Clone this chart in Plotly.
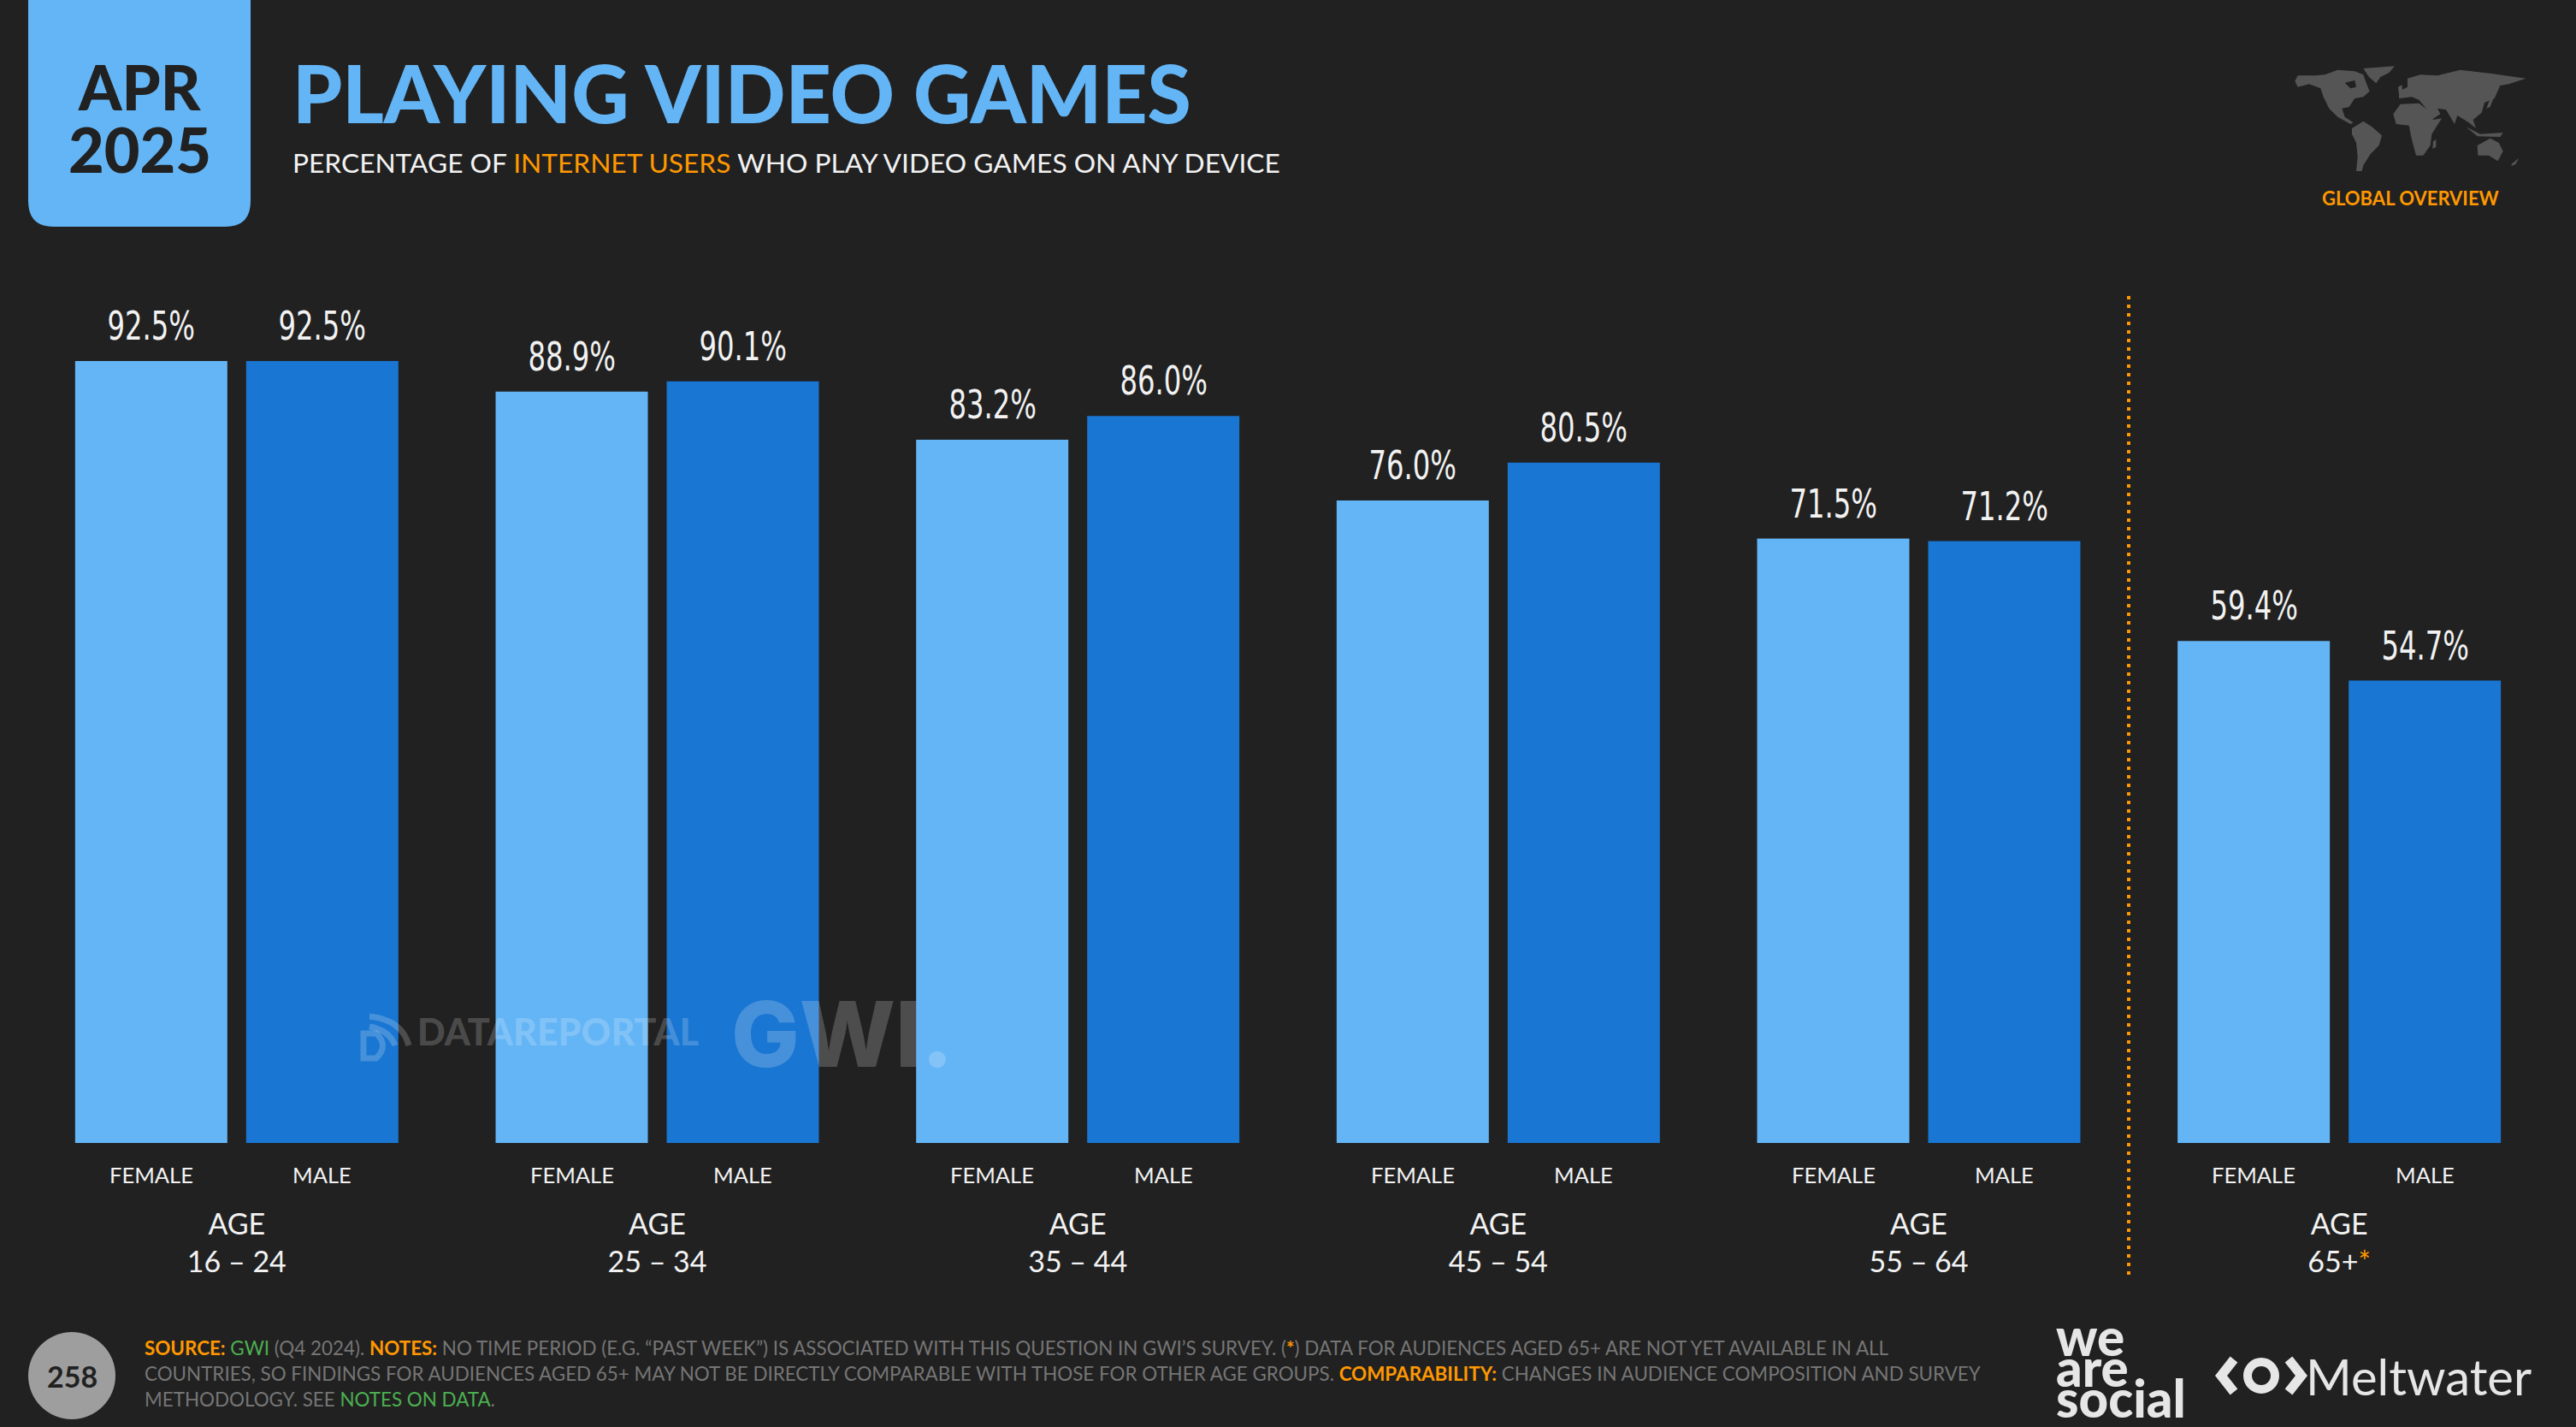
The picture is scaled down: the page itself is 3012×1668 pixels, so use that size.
import plotly.graph_objects as go

W, H = 3012, 1668
BG = "#212121"
LIGHT = "#64b5f6"
DARK = "#1976d2"
ORANGE = "#ff9800"
GREEN = "#4caf50"
GREY = "#757575"
WHITE = "#f2f2f2"
LOGO = "#e6e6e6"

age_groups = ["16 – 24", "25 – 34", "35 – 44", "45 – 54", "55 – 64", "65+"]
tick_labels = ["AGE<br>16 – 24", "AGE<br>25 – 34", "AGE<br>35 – 44", "AGE<br>45 – 54", "AGE<br>55 – 64",
               f"AGE<br>65+<span style='color:{ORANGE}'>*</span>"]
female = [92.5, 88.9, 83.2, 76.0, 71.5, 59.4]
male = [92.5, 90.1, 86.0, 80.5, 71.2, 54.7]
series_names = ["FEMALE", "MALE"]

TEXT = "Lato"
NUM = "DejaVu Sans Condensed, Roboto Condensed, Open Sans Condensed, Lato"


def px(x):
    return x / W


def py(y):
    return 1 - y / H


def note(x, y, text, size, color=WHITE, family=TEXT, weight=400, anchor="left", **kw):
    return dict(x=px(x), y=py(y), xref="paper", yref="paper", text=text, showarrow=False,
                xanchor=anchor, yanchor="middle", align=anchor,
                font=dict(family=family, size=size, color=color, weight=weight), **kw)


def orange(t):
    return f"<span style='color:{ORANGE}'>{t}</span>"


def green(t):
    return f"<span style='color:{GREEN}'>{t}</span>"


fig = go.Figure()
for name, vals, col in zip(series_names, [female, male], [LIGHT, DARK]):
    fig.add_trace(go.Bar(name=name, x=age_groups, y=vals, marker=dict(color=col, line=dict(width=0)),
                         hoverinfo="x+y+name"))

ann = []
SHIFT = 100
for name, vals, sh in zip(series_names, [female, male], [-SHIFT, SHIFT]):
    for cat, v in zip(age_groups, vals):
        ann.append(dict(x=cat, y=v, xref="x", yref="y", xshift=sh, yshift=12, yanchor="bottom",
                        text=f"{v:.1f}%", showarrow=False,
                        font=dict(family=NUM, size=46, color=WHITE)))
        ann.append(dict(x=cat, y=0, xref="x", yref="y", xshift=sh, yshift=-37, yanchor="middle",
                        text=name, showarrow=False,
                        font=dict(family=TEXT, size=25.5, color=WHITE)))

ann += [
    note(163, 101, "APR", 72, BG, weight=900, anchor="center"),
    note(163, 174, "2025", 72, BG, weight=900, anchor="center"),
    note(340, 108, "PLAYING VIDEO GAMES", 93, LIGHT, weight=900),
    note(340, 190, f"PERCENTAGE OF {orange('INTERNET USERS')} WHO PLAY VIDEO GAMES ON ANY DEVICE", 31.7, WHITE),
    note(2818, 231, "GLOBAL OVERVIEW", 22, ORANGE, weight=700, anchor="center"),
]

WM = "rgba(255,255,255,0.2)"
ann += [
    note(486, 1205, "DATAREPORTAL", 43, WM, weight=900),
    note(853, 1208, "GWI.", 106, WM, family="Inter", weight=800),
]

ann += [
    note(84, 1608, "258", 34, BG, weight=700, anchor="center"),
    note(167, 1575,
         f"<b>{orange('SOURCE:')}</b> {green('GWI')} (Q4 2024). <b>{orange('NOTES:')}</b> NO TIME PERIOD (E.G. “PAST WEEK”) "
         f"IS ASSOCIATED WITH THIS QUESTION IN GWI’S SURVEY. ({orange('<b>*</b>')}) DATA FOR AUDIENCES AGED 65+ ARE NOT YET "
         "AVAILABLE IN ALL", 22.4, GREY),
    note(167, 1605,
         "COUNTRIES, SO FINDINGS FOR AUDIENCES AGED 65+ MAY NOT BE DIRECTLY COMPARABLE WITH THOSE FOR OTHER AGE GROUPS. "
         f"<b>{orange('COMPARABILITY:')}</b> CHANGES IN AUDIENCE COMPOSITION AND SURVEY", 22.4, GREY),
    note(167, 1635, f"METHODOLOGY. SEE {green('NOTES ON DATA')}.", 22.4, GREY),
    note(2402, 1562, "we", 60, LOGO, weight=900),
    note(2402, 1598, "are", 60, LOGO, weight=900),
    note(2402, 1634, "social", 60, LOGO, weight=900),
    note(2694, 1608, "Meltwater", 58, LOGO),
]

shapes = [
    dict(type="path", xref="paper", yref="paper", layer="below",
         path=f"M {px(33)} {py(-5)} L {px(293)} {py(-5)} L {px(293)} {py(235)} Q {px(293)} {py(265)} {px(263)} {py(265)} "
              f"L {px(63)} {py(265)} Q {px(33)} {py(265)} {px(33)} {py(235)} Z",
         fillcolor=LIGHT, line=dict(width=0)),
    dict(type="line", xref="paper", yref="paper", x0=px(2489), x1=px(2489), y0=py(346), y1=py(1490),
         line=dict(color=ORANGE, width=4, dash="4px,6px")),
    dict(type="circle", xref="paper", yref="paper", x0=px(33), x1=px(135), y0=py(1557), y1=py(1659),
         fillcolor="#9e9e9e", line=dict(width=0)),
]


def logo_path(pts):
    conv = [(2500 + a / 3, b / 3) for a, b in pts]
    return "M " + " L ".join(f"{px(a)} {py(b)}" for a, b in conv) + " Z"


world = [
    [(550, 285), (560, 265), (620, 265), (655, 262), (700, 245), (760, 250), (790, 262), (800, 290), (812, 320),
     (790, 340), (760, 345), (740, 375), (715, 380), (725, 410), (755, 430), (745, 435), (700, 410), (670, 380),
     (650, 340), (640, 310), (600, 295), (560, 305)],
    [(790, 240), (900, 232), (880, 255), (850, 270), (835, 292), (810, 270)],
    [(750, 450), (790, 425), (820, 445), (855, 475), (845, 510), (815, 540), (790, 580), (785, 600), (765, 600),
     (770, 550), (765, 500), (750, 470)],
    [(895, 400), (920, 365), (985, 362), (1015, 385), (1035, 420), (1065, 415), (1030, 470), (1025, 510), (1000, 545),
     (975, 545), (960, 490), (950, 440), (905, 435)],
    [(915, 345), (915, 320), (945, 305), (945, 275), (990, 262), (1050, 265), (1130, 245), (1240, 258), (1360, 275),
     (1300, 295), (1270, 300), (1250, 345), (1215, 360), (1205, 395), (1175, 420), (1185, 450), (1160, 430),
     (1120, 405), (1110, 435), (1080, 385), (1050, 380), (1060, 400), (1030, 420), (1010, 380), (985, 350), (960, 340)],
    [(1190, 510), (1235, 485), (1265, 500), (1280, 530), (1262, 565), (1230, 545), (1192, 545)],
    [(1035, 495), (1045, 490), (1045, 515), (1033, 522)],
    [(1150, 445), (1200, 470), (1280, 465), (1270, 480), (1190, 478)],
    [(1310, 575), (1335, 555), (1325, 575), (1310, 582)],
    [(1235, 345), (1248, 340), (1235, 375), (1222, 380)],
    [(912, 305), (925, 298), (928, 322), (914, 325)],
]
for poly in world:
    shapes.append(dict(type="path", xref="paper", yref="paper", path=logo_path(poly), fillcolor="#555555",
                       line=dict(width=0)))
shapes.append(dict(type="path", xref="paper", yref="paper", path=logo_path([(725, 290), (760, 282), (765, 305), (745, 310)]),
                   fillcolor=BG, line=dict(width=0)))

for pts in ([(2612, 1589), (2597, 1608), (2612, 1627)], [(2676, 1589), (2691, 1608), (2676, 1627)]):
    shapes.append(dict(type="path", xref="paper", yref="paper",
                       path="M " + " L ".join(f"{px(a)} {py(b)}" for a, b in pts),
                       line=dict(color=LOGO, width=11)))
shapes.append(dict(type="circle", xref="paper", yref="paper", x0=px(2628), x1=px(2660), y0=py(1592), y1=py(1624),
                   line=dict(color=LOGO, width=10)))

for a, b, c, d, e, f in [(432, 1188, 470, 1192, 478, 1222), (432, 1200, 455, 1204, 462, 1222)]:
    shapes.append(dict(type="path", xref="paper", yref="paper",
                       path=f"M {px(a)} {py(b)} Q {px(c)} {py(d)} {px(e)} {py(f)}", line=dict(color=WM, width=7)))
shapes.append(dict(type="path", xref="paper", yref="paper",
                   path=f"M {px(425)} {py(1208)} L {px(440)} {py(1208)} Q {px(455)} {py(1222)} {px(440)} {py(1237)} "
                        f"L {px(425)} {py(1237)} Z",
                   line=dict(color=WM, width=7)))

fig.update_layout(
    width=W, height=H, autosize=False,
    margin=dict(l=0, r=0, t=0, b=0, pad=0),
    paper_bgcolor=BG, plot_bgcolor=BG,
    barmode="group", bargap=0.1865, bargroupgap=0.11,
    showlegend=False,
    font=dict(family=TEXT, color=WHITE),
    annotations=ann, shapes=shapes,
    xaxis=dict(domain=[px(31), px(2981)], type="category", tickmode="array", tickvals=age_groups,
               ticktext=tick_labels, ticks="", showline=False, showgrid=False, zeroline=False,
               ticklabelstandoff=72, tickfont=dict(family=TEXT, size=34, color=WHITE), tickangle=0),
    yaxis=dict(domain=[py(1336), py(348)], range=[0, 100], visible=False),
)

narrow = ("document.querySelectorAll('.annotation-text').forEach(function(t){"
          "if(/^[0-9.]+%$/.test(t.textContent)){t.style.transformBox='fill-box';"
          "t.style.transformOrigin='center';t.style.transform='scaleX(0.78)';}});")
fig.write_html("out.html", config={"displayModeBar": False},
               post_script=f"document.body.style.margin='0';document.body.style.background='{BG}';"
                           "document.documentElement.style.overflow='hidden';" + narrow)
